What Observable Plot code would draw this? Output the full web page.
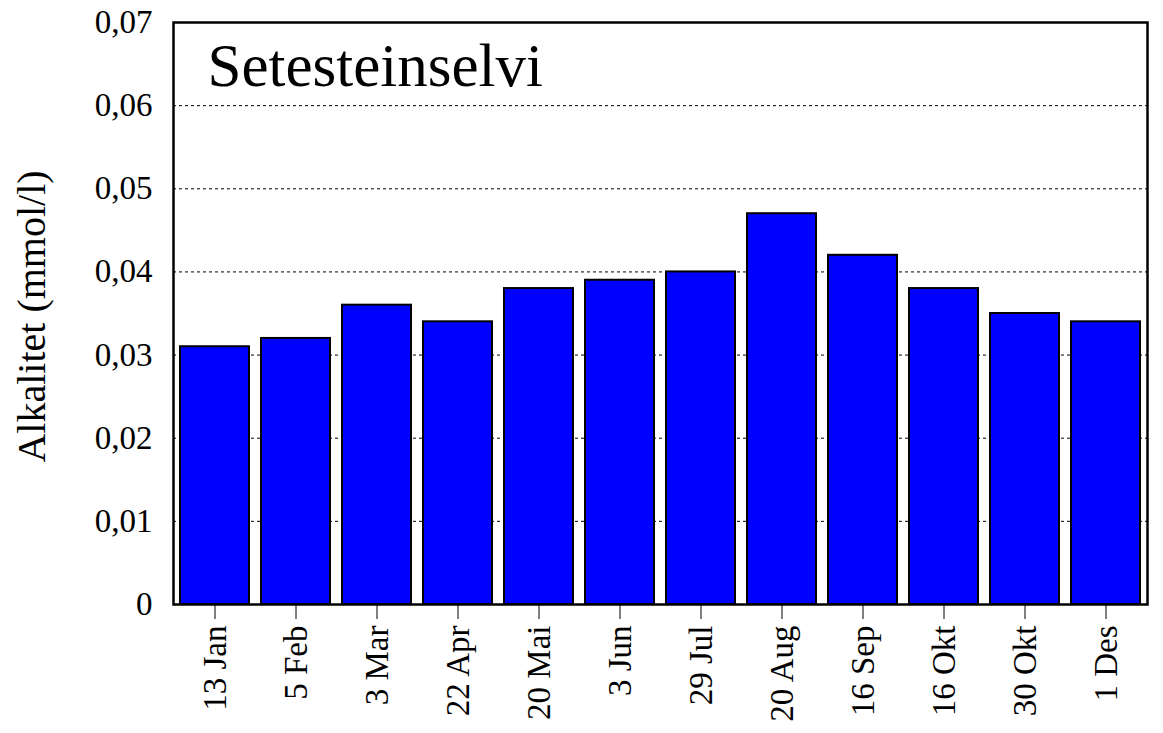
<!DOCTYPE html>
<html>
<head>
<meta charset="utf-8">
<script src="https://cdn.jsdelivr.net/npm/d3@7"></script>
<script src="https://cdn.jsdelivr.net/npm/@observablehq/plot@0.6"></script>
<style>
  html, body { margin: 0; padding: 0; background: #fff; }
  #chart svg { display: block; }
  #chart svg, #chart svg text { font-family: "Liberation Serif", "Times New Roman", serif; }
</style>
</head>
<body>
<div id="chart"></div>
<script>
const dates = ["13 Jan", "5 Feb", "3 Mar", "22 Apr", "20 Mai", "3 Jun", "29 Jul", "20 Aug", "16 Sep", "16 Okt", "30 Okt", "1 Des"];
const values = [0.031, 0.032, 0.036, 0.034, 0.038, 0.039, 0.040, 0.047, 0.042, 0.038, 0.035, 0.034];
const yTicks = [0, 0.01, 0.02, 0.03, 0.04, 0.05, 0.06, 0.07];
const gridLines = [0.01, 0.02, 0.03, 0.04, 0.05, 0.06];
const title = "Setesteinselvi";
const yLabel = "Alkalitet (mmol/l)";

const data = dates.map((d, i) => ({date: d, value: values[i]}));
const fmt = v => v === 0 ? "0" : v.toFixed(2).replace(".", ",");
const FONT = "Liberation Serif, Times New Roman, serif";

const chart = Plot.plot({
  width: 1163,
  height: 733,
  marginLeft: 173,
  marginTop: 22,
  marginRight: 16,
  marginBottom: 129,
  style: {fontFamily: FONT, background: "#fff", color: "#000"},
  x: {domain: dates, paddingInner: 0.145, paddingOuter: 0.07, label: null},
  y: {domain: [0, 0.07], label: null},
  marks: [
    Plot.ruleY(gridLines, {stroke: "#000", strokeWidth: 1, strokeDasharray: "3,3"}),
    Plot.barY(data, {x: "date", y: "value", fill: "#0000ff", stroke: "#000", strokeWidth: 2}),
    Plot.axisY({ticks: yTicks, tickFormat: fmt, tickSize: 0, tickPadding: 21, fontSize: 33, fontFamily: FONT, label: null}),
    Plot.axisX({tickSize: 15, tickPadding: 6, tickRotate: -90, fontSize: 33, fontFamily: FONT, label: null}),
    Plot.frame({stroke: "#000", strokeWidth: 2.5}),
    Plot.text([title], {frameAnchor: "top-left", text: d => d, dx: 34, dy: 20, fontSize: 61, fontFamily: FONT, textAnchor: "start", lineAnchor: "top"}),
    Plot.text([yLabel], {frameAnchor: "left", text: d => d, rotate: -90, dx: -141, dy: 3, fontSize: 40, fontFamily: FONT, textAnchor: "middle"})
  ]
});
document.getElementById("chart").appendChild(chart);
</script>
</body>
</html>
